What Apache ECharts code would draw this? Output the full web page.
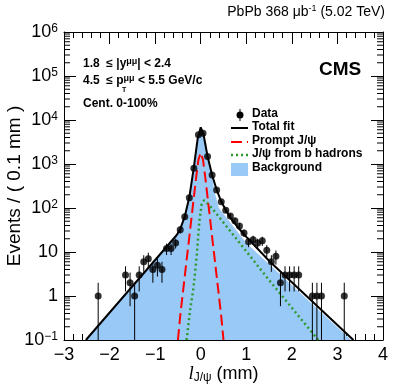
<!DOCTYPE html>
<html>
<head>
<meta charset="utf-8">
<script src="https://cdn.jsdelivr.net/npm/echarts@6.0.0/dist/echarts.min.js"></script>
<style>
    html, body { margin: 0; padding: 0; background: #fff; }
    #chart { width: 399px; height: 387px; }
</style>
</head>
<body>
<div id="chart"></div>
<script>
// measured bins, Events / (0.1 mm)
var binCenters = [-2.25, -1.65, -1.55, -1.45, -1.35, -1.25, -1.15, -1.05, -0.95, -0.85, -0.75, -0.65, -0.55, -0.45, -0.35, -0.25, -0.15, -0.05,
    0.05, 0.15, 0.25, 0.35, 0.45, 0.55, 0.65, 0.75, 0.85, 0.95, 1.05, 1.15, 1.25, 1.35, 1.45, 1.55, 1.65, 1.75, 1.85, 1.95, 2.05, 2.15,
    2.45, 2.55, 2.65, 3.15];
var binCounts = [1, 3, 2, 1, 3, 6, 7, 4, 5, 4, 12, 12, 16, 32, 63, 170, 800, 4600,
    5000, 1480, 560, 257, 138, 89, 66, 51, 39, 27, 17, 19, 16, 18, 11, 6, 8, 2, 3, 3, 3, 3,
    1, 1, 1, 1];

// fit components, [l, events]
var totalFit = [[-2.52, 0.1], [-0.53, 24], [-0.45, 33], [-0.35, 64], [-0.25, 175], [-0.15, 850], [-0.07, 3600], [0, 6800],
    [0.06, 4800], [0.15, 1500], [0.25, 560], [0.35, 260], [0.45, 140], [0.55, 90], [0.65, 60], [0.8, 38], [1.0, 22], [1.52, 6], [3.35, 0.1]];
var backgroundFit = [[-2.52, 0.1], [-0.53, 24], [-0.45, 33], [-0.35, 64], [-0.25, 175], [-0.15, 850], [-0.07, 3600], [0, 6800],
    [0.06, 4800], [0.15, 1450], [0.25, 500], [0.32, 200], [0.4, 100], [1.0, 16], [3.3, 0.1]];
var promptFit = [[-0.5, 0.1], [-0.45, 0.35], [-0.4, 1], [-0.35, 2.8], [-0.3, 8], [-0.25, 22], [-0.2, 63], [-0.15, 178], [-0.1, 500],
    [-0.05, 1260], [0, 1800], [0.05, 1260], [0.1, 500], [0.15, 178], [0.2, 63], [0.25, 22], [0.3, 8], [0.35, 2.8], [0.4, 1], [0.45, 0.35], [0.5, 0.1]];
var nonPromptFit = [[-0.31, 0.1], [-0.23, 0.5], [-0.16, 1.5], [-0.09, 7.5], [-0.03, 50], [0.02, 120], [0.07, 150], [0.13, 135],
    [0.3, 85], [1.5, 2.3], [2.58, 0.1]];

var font = 'Liberation Sans, Arial, Helvetica, sans-serif';

var points = binCenters.map(function (x, i) { return [x, binCounts[i]]; });

// ROOT style minor ticks of the log axis (2..9 per decade)
var minorY = [];
for (var e = -1; e < 6; e++) {
    for (var m = 2; m <= 9; m++) minorY.push([-3, m * Math.pow(10, e)]);
}

var myChart = echarts.init(document.getElementById('chart'));

// bold text with a raised small part (for the superscripts)
function richBold(size, supSize) {
    return {
        b: { fontFamily: font, fontSize: size, fontWeight: 'bold', fill: '#000', lineHeight: size + 2 },
        s: { fontFamily: font, fontSize: supSize, fontWeight: 'bold', fill: '#000', verticalAlign: 'top', lineHeight: supSize, padding: [0, 0, 11, 0] }
    };
}

var axisLabelY = {
    show: true,
    margin: 6,
    color: '#000',
    fontFamily: font,
    fontSize: 18,
    formatter: function (v) {
        var p = Math.round(Math.log10(v));
        if (p === 0) return '1';
        if (p === 1) return '10';
        return '10{sup|' + (p < 0 ? '\u2212' + (-p) : p) + '}';
    },
    rich: {
        sup: { fontSize: 12, fontFamily: font, color: '#000', verticalAlign: 'top', lineHeight: 12, padding: [0, 0, 8, 0] }
    }
};

var option = {
    animation: false,
    backgroundColor: '#fff',
    grid: { left: 64, top: 32, right: 16, bottom: 47, containLabel: false, outerBoundsMode: 'none' },
    xAxis: [{
        type: 'value', min: -3, max: 4, interval: 1, position: 'bottom',
        axisLine: { show: true, onZero: false, lineStyle: { color: '#000', width: 1 } },
        axisTick: { show: true, inside: true, length: 12, lineStyle: { color: '#000' } },
        minorTick: { show: true, splitNumber: 5, length: 6, lineStyle: { color: '#000' } },
        splitLine: { show: false },
        axisLabel: {
            color: '#000', fontFamily: font, fontSize: 18, margin: 6,
            formatter: function (v) { return String(v).replace('-', '\u2212'); }
        },
        name: '{i|l}{sub|J/\u03c8}{n| (mm)}',
        nameLocation: 'middle',
        nameGap: 24,
        nameMoveOverlap: false,
        nameTextStyle: {
            rich: {
                i: { fontFamily: 'Liberation Serif, serif', fontStyle: 'italic', fontSize: 19, color: '#000' },
                sub: { fontFamily: font, fontSize: 12, color: '#000', verticalAlign: 'bottom', padding: [8, 0, 0, 0] },
                n: { fontFamily: font, fontSize: 18, color: '#000' }
            }
        }
    }, {
        type: 'value', min: -3, max: 4, interval: 1, position: 'top',
        axisLine: { show: true, onZero: false, lineStyle: { color: '#000', width: 1 } },
        axisTick: { show: true, inside: true, length: 12, lineStyle: { color: '#000' } },
        minorTick: { show: true, splitNumber: 5, length: 6, lineStyle: { color: '#000' } },
        splitLine: { show: false },
        axisLabel: { show: false }
    }],
    yAxis: [{
        type: 'log', logBase: 10, min: 0.1, max: 1e6, interval: 1, position: 'left',
        axisLine: { show: true, onZero: false, lineStyle: { color: '#000', width: 1 } },
        axisTick: { show: true, inside: true, length: 12, lineStyle: { color: '#000' } },
        splitLine: { show: false },
        axisLabel: axisLabelY,
        name: 'Events / ( 0.1 mm )',
        nameLocation: 'middle',
        nameRotate: 90,
        nameGap: 40,
        nameMoveOverlap: false,
        nameTextStyle: { color: '#000', fontFamily: font, fontSize: 19 }
    }, {
        type: 'log', logBase: 10, min: 0.1, max: 1e6, interval: 1, position: 'right',
        axisLine: { show: true, onZero: false, lineStyle: { color: '#000', width: 1 } },
        axisTick: { show: true, inside: true, length: 12, lineStyle: { color: '#000' } },
        splitLine: { show: false },
        axisLabel: { show: false }
    }],
    series: [{
        name: 'Background',
        type: 'line',
        data: backgroundFit,
        symbol: 'none',
        lineStyle: { width: 0 },
        areaStyle: { color: '#99c9f7', opacity: 1, origin: 'start' },
        z: 1
    }, {
        name: 'J/\u03c8 from b hadrons',
        type: 'line',
        data: nonPromptFit,
        symbol: 'none',
        lineStyle: { color: '#2e9a2e', width: 2.5, type: [2, 3] },
        z: 2
    }, {
        name: 'Prompt J/\u03c8',
        type: 'line',
        data: promptFit,
        symbol: 'none',
        lineStyle: { color: '#ff0000', width: 2, type: [11, 5] },
        z: 3
    }, {
        name: 'Total fit',
        type: 'line',
        data: totalFit,
        symbol: 'none',
        lineStyle: { color: '#000', width: 2 },
        z: 4
    }, {
        // poisson error bars
        name: 'Data errors',
        type: 'custom',
        data: points,
        clip: true,
        z: 5,
        renderItem: function (params, api) {
            var x = api.value(0), n = api.value(1);
            var err = Math.sqrt(n);
            var top = api.coord([x, n + err]);
            var bot = api.coord([x, Math.max(n - err, 0.1)]);
            return {
                type: 'line',
                shape: { x1: top[0], y1: top[1], x2: bot[0], y2: bot[1] },
                style: { stroke: '#000', lineWidth: 1 }
            };
        }
    }, {
        name: 'Data',
        type: 'scatter',
        data: points,
        symbol: 'circle',
        symbolSize: 7,
        itemStyle: { color: '#000' },
        z: 6
    }, {
        // minor ticks of the log axes, both sides
        name: 'minor ticks',
        type: 'custom',
        data: minorY,
        silent: true,
        z: 7,
        renderItem: function (params, api) {
            var cs = params.coordSys;
            var p = api.coord([api.value(0), api.value(1)]);
            return {
                type: 'group',
                children: [{
                    type: 'line',
                    shape: { x1: cs.x, y1: p[1], x2: cs.x + 6, y2: p[1] },
                    style: { stroke: '#000', lineWidth: 1 }
                }, {
                    type: 'line',
                    shape: { x1: cs.x + cs.width - 6, y1: p[1], x2: cs.x + cs.width, y2: p[1] },
                    style: { stroke: '#000', lineWidth: 1 }
                }]
            };
        }
    }],
    graphic: [{
        type: 'text', right: 14, top: 4,
        style: {
            text: '{n|PbPb 368 \u03bcb}{s|-1}{n| (5.02 TeV)}',
            rich: {
                n: { fontFamily: font, fontSize: 14, fill: '#000', lineHeight: 16 },
                s: { fontFamily: font, fontSize: 9, fill: '#000', verticalAlign: 'top', lineHeight: 9, padding: [0, 0, 12, 0] }
            }
        }
    }, {
        type: 'text', left: 319, top: 60,
        style: { text: 'CMS', fontFamily: font, fontSize: 19, fontWeight: 'bold', fill: '#000' }
    }, {
        type: 'text', left: 83, top: 57,
        style: { text: '{b|1.8  \u2264 |y}{s|\u03bc\u03bc}{b|| < 2.4}', rich: richBold(12, 9) }
    }, {
        type: 'text', left: 83, top: 74,
        style: { text: '{b|4.5  \u2264 p}{s|\u03bc\u03bc}{b| < 5.5 GeV/c}', rich: richBold(12, 9) }
    }, {
        type: 'text', left: 122, top: 87,
        style: { text: 'T', fontFamily: font, fontSize: 7, fontWeight: 'bold', fill: '#000' }
    }, {
        type: 'text', left: 83, top: 98,
        style: { text: 'Cent. 0-100%', fontFamily: font, fontSize: 12, fontWeight: 'bold', fill: '#000' }
    },
    // legend
    {
        type: 'line', shape: { x1: 240, y1: 109, x2: 240, y2: 121 }, style: { stroke: '#000', lineWidth: 1 }
    }, {
        type: 'circle', shape: { cx: 240, cy: 115, r: 3.5 }, style: { fill: '#000' }
    }, {
        type: 'text', left: 252, top: 108,
        style: { text: 'Data', fontFamily: font, fontSize: 12, fontWeight: 'bold', fill: '#000' }
    }, {
        type: 'line', shape: { x1: 231, y1: 128, x2: 248, y2: 128 }, style: { stroke: '#000', lineWidth: 2 }
    }, {
        type: 'text', left: 252, top: 121,
        style: { text: 'Total fit', fontFamily: font, fontSize: 12, fontWeight: 'bold', fill: '#000' }
    }, {
        type: 'line', shape: { x1: 231, y1: 142, x2: 248, y2: 142 }, style: { stroke: '#ff0000', lineWidth: 2, lineDash: [11, 5] }
    }, {
        type: 'text', left: 252, top: 135,
        style: { text: 'Prompt J/\u03c8', fontFamily: font, fontSize: 12, fontWeight: 'bold', fill: '#000' }
    }, {
        type: 'line', shape: { x1: 231, y1: 155, x2: 248, y2: 155 }, style: { stroke: '#2e9a2e', lineWidth: 2.5, lineDash: [2, 3] }
    }, {
        type: 'text', left: 252, top: 148,
        style: { text: 'J/\u03c8 from b hadrons', fontFamily: font, fontSize: 12, fontWeight: 'bold', fill: '#000' }
    }, {
        type: 'rect', shape: { x: 231, y: 163, width: 17, height: 13 }, style: { fill: '#99c9f7' }
    }, {
        type: 'text', left: 252, top: 162,
        style: { text: 'Background', fontFamily: font, fontSize: 12, fontWeight: 'bold', fill: '#000' }
    }]
};

myChart.setOption(option);
</script>
</body>
</html>
